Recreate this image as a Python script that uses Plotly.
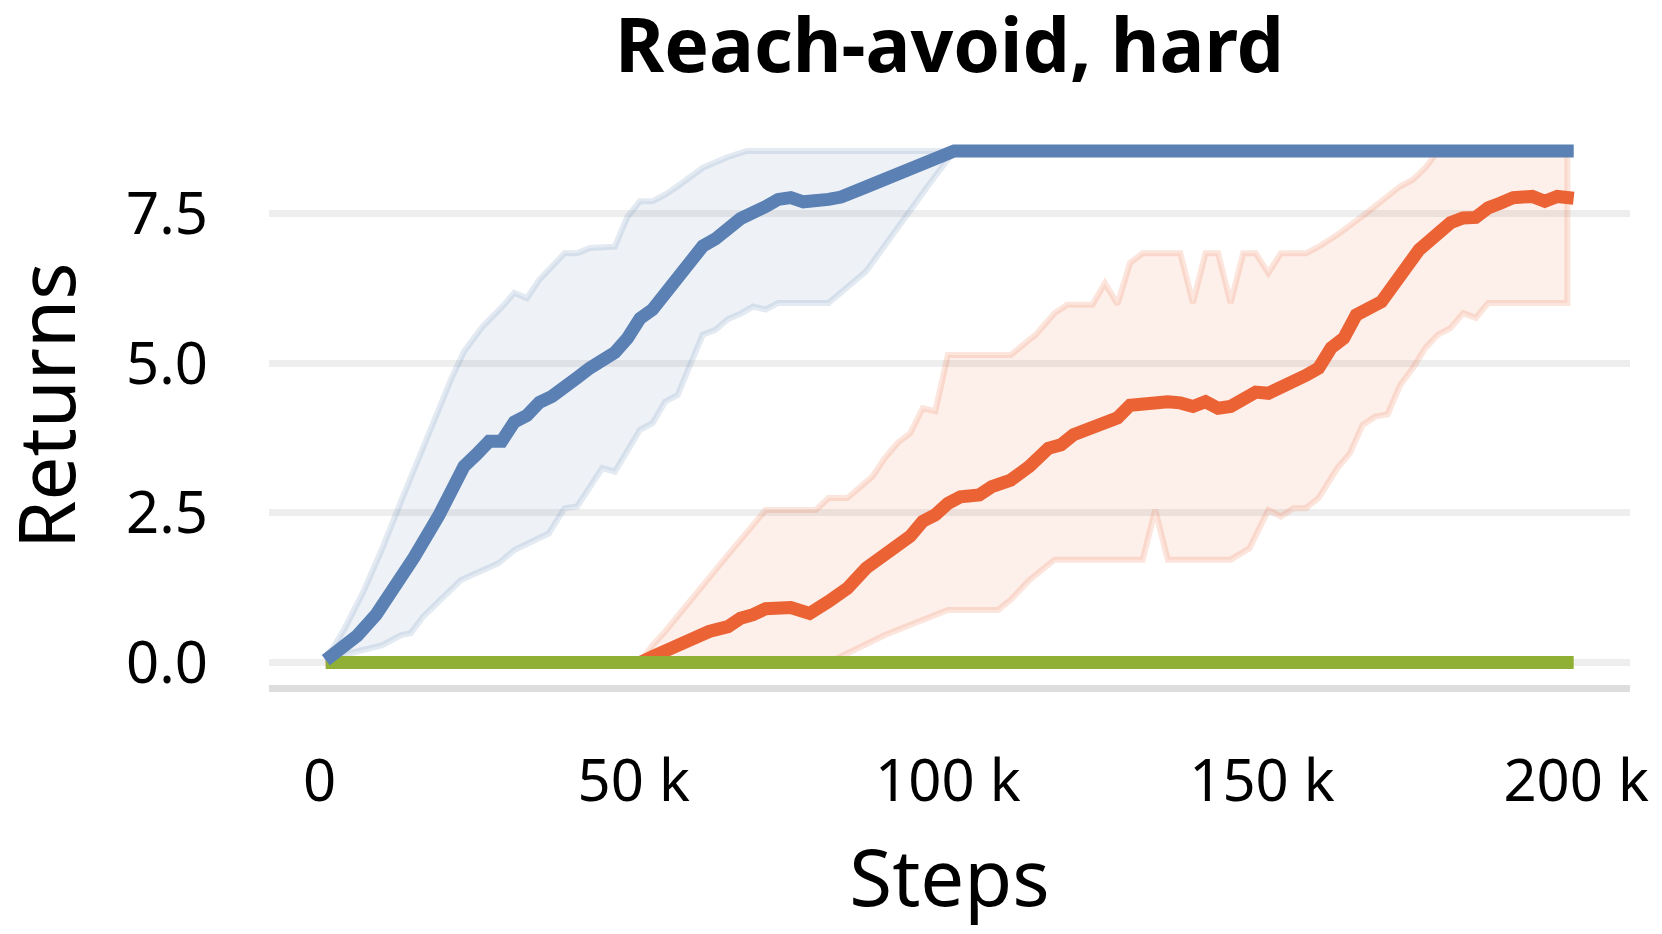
import plotly.graph_objects as go

###### Data (steps in thousands, returns)

BLUE_MEAN_STEPS = [1, 3, 6, 9, 12, 15, 19, 21, 23, 25, 27, 29, 31, 33, 35, 37, 39, 41, 43, 47, 49,
                   51, 53, 55, 57, 59, 61, 63, 65, 67, 71, 73, 75, 77, 81, 83, 87, 91, 95, 99, 101,
                   199.6]
BLUE_MEAN = [0.04, 0.18, 0.45, 0.80, 1.25, 1.75, 2.46, 2.88, 3.28, 3.48, 3.70, 3.70, 4.02, 4.13,
             4.35, 4.45, 4.64, 4.76, 4.92, 5.18, 5.42, 5.75, 5.90, 6.18, 6.38, 6.70, 6.96, 7.08,
             7.25, 7.42, 7.62, 7.74, 7.77, 7.70, 7.74, 7.78, 7.95, 8.11, 8.27, 8.44, 8.55, 8.55]

BLUE_UPPER_STEPS = [1, 4, 7, 10, 13, 16, 19, 21, 23, 26, 29, 31, 33, 35, 39, 41, 43, 47, 49, 51,
                    53, 55, 57, 61, 65, 68, 101, 199.6]
BLUE_UPPER = [0.04, 0.57, 1.19, 1.91, 2.70, 3.47, 4.18, 4.75, 5.20, 5.62, 5.94, 6.18, 6.09, 6.40,
              6.84, 6.84, 6.93, 6.95, 7.45, 7.71, 7.71, 7.82, 7.96, 8.27, 8.45, 8.55, 8.55, 8.55]

BLUE_LOWER_STEPS = [1, 5, 10, 13, 14.5, 16.5, 20, 22.5, 28.5, 31, 36.5, 39, 41, 42.5, 45, 47, 51,
                    53, 55, 57, 59, 61, 63, 65, 67, 69, 71, 73, 81, 87, 92, 97, 101, 199.6]
BLUE_LOWER = [0.0, 0.16, 0.29, 0.46, 0.49, 0.77, 1.13, 1.38, 1.66, 1.88, 2.16, 2.58, 2.61, 2.83,
              3.25, 3.19, 3.89, 4.00, 4.36, 4.47, 4.98, 5.48, 5.56, 5.74, 5.83, 5.95, 5.90, 6.01,
              6.01, 6.54, 7.26, 7.99, 8.55, 8.55]

ORANGE_MEAN_STEPS = [1, 51, 53, 57, 62, 65, 67, 69, 71, 75, 78, 81, 84, 87, 91, 94, 96, 98, 100,
                     102, 105, 107, 110, 113, 116, 118, 120, 123, 125, 127, 129, 133, 135, 137,
                     139, 141, 143, 145, 147, 149, 151, 155, 157, 159, 161, 163, 165, 169, 172,
                     175, 180, 182, 184, 186, 188, 190, 193, 195, 197, 199.6]
ORANGE_MEAN = [0.0, 0.0, 0.10, 0.30, 0.52, 0.60, 0.74, 0.80, 0.90, 0.92, 0.82, 1.02, 1.24, 1.58,
               1.91, 2.11, 2.36, 2.47, 2.66, 2.77, 2.80, 2.94, 3.05, 3.28, 3.58, 3.64, 3.81, 3.92,
               4.03, 4.09, 4.30, 4.35, 4.36, 4.34, 4.28, 4.36, 4.25, 4.28, 4.39, 4.52, 4.50, 4.67,
               4.80, 4.92, 5.26, 5.42, 5.81, 6.03, 6.48, 6.90, 7.35, 7.43, 7.44, 7.60, 7.68, 7.77,
               7.79, 7.71, 7.79, 7.76]

ORANGE_UPPER_STEPS = [1, 51, 53, 55, 65, 69, 71, 79, 81, 84, 88, 90, 92, 94, 96, 98, 100, 110,
                      114, 117, 119, 123, 125, 127, 129, 131, 137, 139, 141, 143, 145, 147, 149,
                      151, 153, 157, 159, 162, 166, 172, 174, 176, 178, 198.6]
ORANGE_UPPER = [0.0, 0.0, 0.29, 0.52, 1.80, 2.30, 2.55, 2.55, 2.75, 2.75, 3.11, 3.42, 3.67, 3.83,
                4.25, 4.20, 5.14, 5.14, 5.48, 5.84, 5.98, 5.98, 6.34, 5.99, 6.68, 6.84, 6.84, 6.01,
                6.84, 6.84, 6.01, 6.84, 6.84, 6.51, 6.84, 6.84, 6.95, 7.15, 7.46, 7.96, 8.07, 8.27,
                8.55, 8.55]

ORANGE_LOWER_STEPS = [1, 81, 90, 100, 108, 110, 113, 117, 131, 133, 135, 145, 148, 151, 153, 155,
                      157, 159, 162, 164, 166, 168, 170, 172, 174, 176, 178, 180, 182, 184, 186,
                      198.6]
ORANGE_LOWER = [0.0, 0.0, 0.46, 0.88, 0.88, 1.05, 1.38, 1.72, 1.72, 2.55, 1.72, 1.72, 1.91, 2.55,
                2.44, 2.58, 2.58, 2.75, 3.25, 3.50, 3.97, 4.11, 4.15, 4.64, 4.92, 5.26, 5.48, 5.59,
                5.84, 5.76, 6.01, 6.01]

GREEN_STEPS = [1, 199.6]
GREEN_MEAN = [0.0, 0.0]

X_TICKS = [0, 50, 100, 150, 200]
X_TICK_TEXT = ["0", "50 k", "100 k", "150 k", "200 k"]
Y_TICKS = [0, 2.5, 5.0, 7.5]
Y_TICK_TEXT = ["0.0", "2.5", "5.0", "7.5"]

###### Misc

FONT = "Noto Sans"
BLUE = "#5B80B4"
ORANGE = "#EB6234"
GREEN = "#8FB034"


def k(steps):
    return [s * 1000 for s in steps]


def band(fig, up_x, up_y, lo_x, lo_y, rgb):
    # closed polygon: upper bound forward, lower bound back
    fig.add_trace(go.Scatter(
        x=k(up_x) + k(lo_x)[::-1],
        y=up_y + lo_y[::-1],
        fill="toself",
        fillcolor=f"rgba({rgb},0.10)",
        line=dict(color=f"rgba({rgb},0.17)", width=6),
        mode="lines",
        hoverinfo="skip",
    ))


def main():
    fig = go.Figure()

    band(fig, ORANGE_UPPER_STEPS, ORANGE_UPPER, ORANGE_LOWER_STEPS, ORANGE_LOWER, "235,98,52")
    band(fig, BLUE_UPPER_STEPS, BLUE_UPPER, BLUE_LOWER_STEPS, BLUE_LOWER, "91,128,180")

    fig.add_trace(go.Scatter(x=k(ORANGE_MEAN_STEPS), y=ORANGE_MEAN, mode="lines",
                             line=dict(color=ORANGE, width=13)))
    fig.add_trace(go.Scatter(x=k(GREEN_STEPS), y=GREEN_MEAN, mode="lines",
                             line=dict(color=GREEN, width=13)))
    fig.add_trace(go.Scatter(x=k(BLUE_MEAN_STEPS), y=BLUE_MEAN, mode="lines",
                             line=dict(color=BLUE, width=13)))

    fig.update_layout(
        width=1662,
        height=934,
        margin=dict(l=269, r=32, t=139, b=249),
        plot_bgcolor="white",
        paper_bgcolor="white",
        showlegend=False,
        font=dict(family=FONT, color="black"),
        title=dict(text="<b>Reach-avoid, hard</b>", x=0.5, xref="paper", xanchor="center",
                   y=1 - 46 / 934, yref="container", yanchor="middle",
                   font=dict(size=75, family=FONT)),
    )

    fig.update_xaxes(
        range=[-8040, 208560],
        tickvals=k(X_TICKS),
        ticktext=X_TICK_TEXT,
        tickfont=dict(size=58),
        ticklabelstandoff=40,
        showgrid=False,
        zeroline=False,
        showline=True,
        linecolor="#DDDDDD",
        linewidth=6.5,
        title=dict(text="Steps", font=dict(size=78), standoff=37),
    )
    fig.update_yaxes(
        range=[-0.375, 8.75],
        tickvals=Y_TICKS,
        ticktext=Y_TICK_TEXT,
        tickfont=dict(size=58),
        ticklabelstandoff=60,
        showgrid=True,
        gridcolor="#EEEEEE",
        gridwidth=6.5,
        zeroline=False,
        showline=False,
    )

    # y title as an annotation: an axis title gets pushed in by the margin edge
    fig.add_annotation(
        text="Returns", textangle=-90, showarrow=False,
        xref="paper", yref="paper", x=(44.5 - 269) / 1361, y=(685 - 405.5) / 546,
        xanchor="center", yanchor="middle",
        font=dict(size=78, family=FONT, color="black"),
    )

    # no body margin, so the figure sits at the window's top-left corner
    fig.write_html("out.html", config={"displayModeBar": False},
                   post_script="document.body.style.margin='0';document.body.style.overflow='hidden';")


if __name__ == "__main__":
    main()
